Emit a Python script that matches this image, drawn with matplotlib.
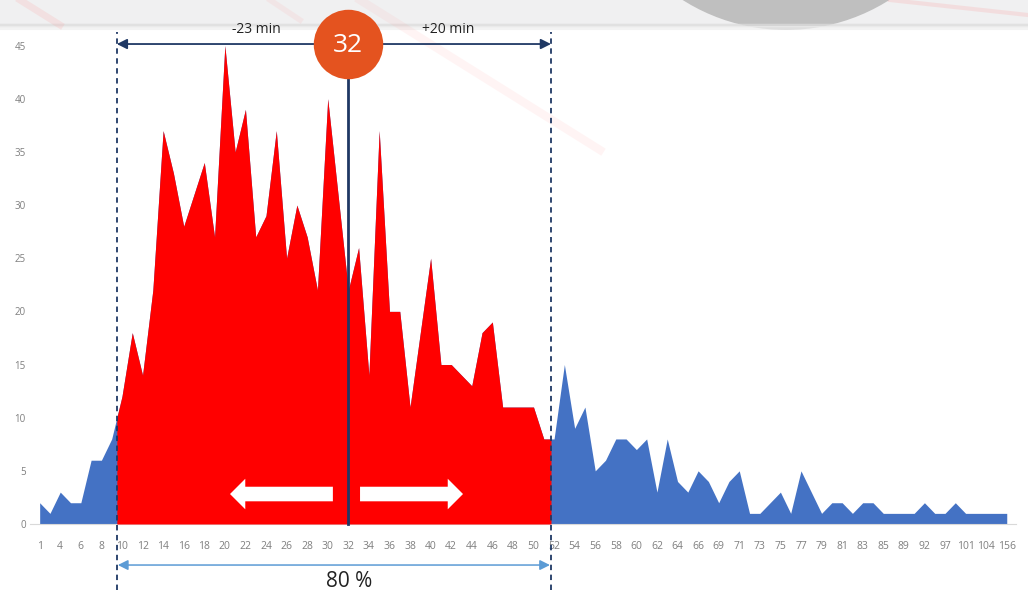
import numpy as np
import matplotlib
matplotlib.use("Agg")
import matplotlib.pyplot as plt
from matplotlib.patches import Circle, Rectangle

plt.rcParams['font.family'] = ['Open Sans', 'DejaVu Sans']

# waiting time categories (minutes) and number of cases
minutes = [1, 3, 4, 5, 6, 7, 8, 9, 10, 11, 12, 13, 14, 15, 16, 17, 18, 19, 20, 21,
           22, 23, 24, 25, 26, 27, 28, 29, 30, 31, 32, 33, 34, 35, 36, 37, 38, 39, 40, 41,
           42, 43, 44, 45, 46, 47, 48, 49, 50, 51, 52, 53, 54, 55, 56, 57, 58, 59, 60, 61,
           62, 63, 64, 65, 66, 68, 69, 70, 71, 72, 73, 74, 75, 76, 77, 78, 79, 80, 81, 82,
           83, 84, 85, 87, 89, 91, 92, 95, 97, 99, 101, 103, 104, 110, 156]
counts = [2, 1, 3, 2, 2, 6, 6, 8,
          12, 18, 14, 22, 37, 33, 28, 31, 34, 27, 45, 35,
          39, 27, 29, 37, 25, 30, 27, 22, 40, 31,
          22, 26, 14, 37, 20, 20, 11, 18, 25, 15,
          15, 14, 13, 18, 19, 11, 11, 11, 11, 8,
          8, 15, 9, 11, 5, 6, 8, 8, 7, 8,
          3, 8, 4, 3, 5, 4, 2, 4, 5, 1,
          1, 2, 3, 1, 5, 3, 1, 2, 2, 1,
          2, 2, 1, 1, 1, 1, 2, 1, 1, 2,
          1, 1, 1, 1, 1]
median_label = "32"
left_label = "-23 min"
right_label = "+20 min"
share_label = "80 %"
band = (7.5, 49.7)      # category positions of the 80 % band edges
median_pos = 30         # category position of 32 min

idx = np.arange(len(counts))
vals = np.array(counts, dtype=float)

navy = '#1F3864'
blue = '#4472C4'
red = '#FF0000'

fig = plt.figure(figsize=(10.28, 5.93), dpi=100)

# faded background picture
bg = fig.add_axes([0, 0, 1, 1], zorder=-1)
bg.set_xlim(0, 1028)
bg.set_ylim(593, 0)
bg.axis('off')
bg.add_patch(Rectangle((0, 0), 1028, 24, color='#f0f0f1', lw=0))
bg.plot([0, 1028], [25, 25], color='#dadada', lw=2.5, alpha=0.8)
bg.plot([0, 1028], [28, 28], color='#eeeeee', lw=3, alpha=0.7)
bg.add_patch(Circle((786, -163), 193, color='#bfbfbf', lw=0))
bg.plot([360, 600], [0, 150], color='#ff9a9a', lw=6, alpha=0.10)
bg.plot([20, 60], [0, 25], color='#ff8a8a', lw=5, alpha=0.15)
bg.plot([270, 300], [0, 20], color='#ff9a9a', lw=4, alpha=0.12)
bg.plot([890, 1028], [0, 15], color='#ff8a8a', lw=3, alpha=0.18)

ax = fig.add_axes([30 / 1028, 69 / 593, 986 / 1028, 483.7 / 593], zorder=1)
ax.patch.set_alpha(0)

# whole distribution in blue
ax.fill_between(idx, vals, 0, color=blue, lw=0, zorder=2)

# 80 % band in red
inner = idx[(idx > band[0]) & (idx < band[1])]
xs = np.concatenate([[band[0]], inner, [band[1]]])
ys = np.interp(xs, idx, vals)
ax.fill_between(xs, ys, 0, color=red, lw=0, zorder=3)

ax.set_xlim(-0.94, 94.9)
ax.set_ylim(0, 45.5)
ax.set_yticks(np.arange(0, 46, 5))
ax.set_xticks(idx[::2])
ax.set_xticklabels([str(m) for m in minutes[::2]])
ax.tick_params(axis='x', length=0, pad=12, labelsize=7.5, labelcolor='#7f7f7f')
ax.tick_params(axis='y', length=0, pad=3, labelsize=7, labelcolor='#7f7f7f')
for s in ['top', 'right', 'left']:
    ax.spines[s].set_visible(False)
ax.spines['bottom'].set_color('#d9d9d9')
ax.spines['bottom'].set_linewidth(0.8)

# dashed band edges
for b in band:
    ax.plot([b, b], [-6.2, 46.3], color=navy, lw=1.3, ls=(0, (3, 2.5)),
            clip_on=False, zorder=6)

# median line and marker
ax.plot([median_pos, median_pos], [0, 45.15], color=navy, lw=2, zorder=6, clip_on=False)
arr = dict(arrowstyle='-|>,head_length=0.6,head_width=0.3', color=navy, lw=1.3,
           shrinkA=0, shrinkB=0)
ax.annotate('', xy=(band[0], 45.15), xytext=(median_pos, 45.15), arrowprops=arr,
            annotation_clip=False, zorder=6)
ax.annotate('', xy=(band[1], 45.15), xytext=(median_pos, 45.15), arrowprops=arr,
            annotation_clip=False, zorder=6)
ax.plot(median_pos, 45.15, 'o', ms=50, color='#E4531F', mec='none', clip_on=False, zorder=10)
ax.text(median_pos, 45.0, median_label, color='white', fontsize=19, ha='center',
        va='center', zorder=11, clip_on=False)
ax.text(21.1, 46.5, left_label, fontsize=10, color='#222222', ha='center', va='center',
        clip_on=False)
ax.text(39.7, 46.5, right_label, fontsize=10, color='#222222', ha='center', va='center',
        clip_on=False)

# white direction arrows
warr = dict(arrowstyle='simple,head_length=1.1,head_width=2.2,tail_width=1.05',
            color='white', lw=0, shrinkA=0, shrinkB=0, mutation_scale=10)
ax.annotate('', xy=(18.5, 2.82), xytext=(28.5, 2.82), arrowprops=warr, zorder=7)
ax.annotate('', xy=(41.15, 2.82), xytext=(31.14, 2.82), arrowprops=warr, zorder=7)

# 80 % span
ax.annotate('', xy=(band[0] + 0.1, -3.86), xytext=(band[1] - 0.1, -3.86),
            arrowprops=dict(arrowstyle='<|-|>,head_length=0.6,head_width=0.3',
                            color='#5B9BD5', lw=1.1, shrinkA=0, shrinkB=0),
            annotation_clip=False)
ax.text(30.1, -5.45, share_label, fontsize=15, color='#222222', ha='center', va='center',
        clip_on=False)

fig.savefig('out.png', dpi=100)
